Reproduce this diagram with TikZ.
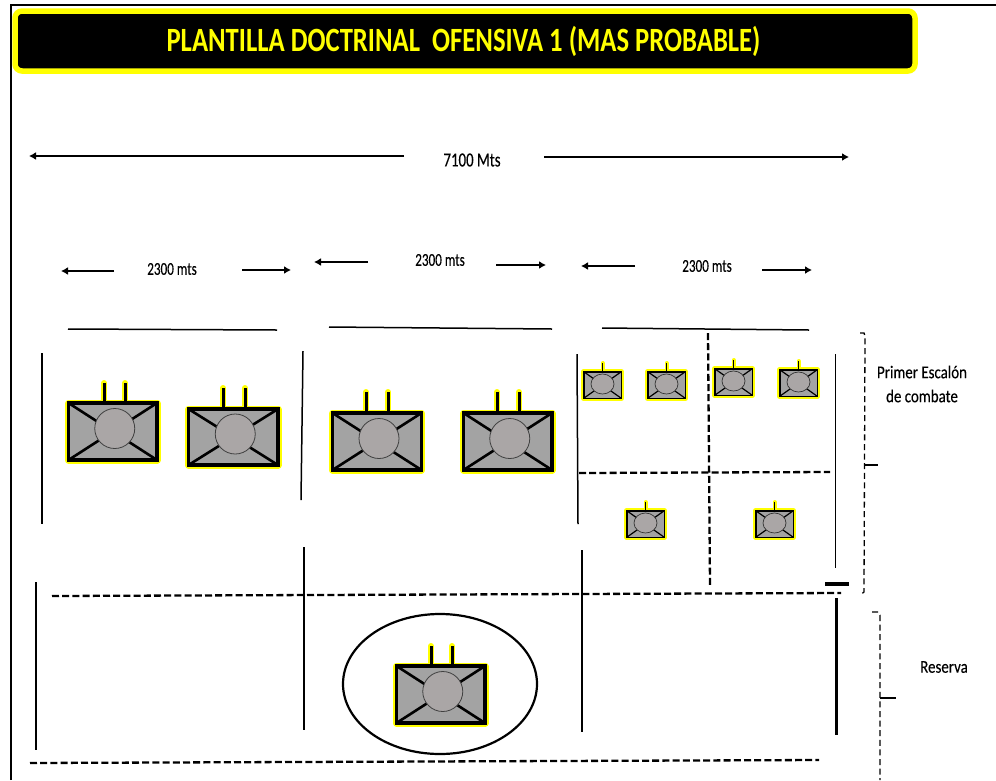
\documentclass[tikz,border=0pt]{standalone}
\usepackage{fontspec}
\setmainfont{Carlito}
\newfontfamily\medfont[FakeBold=0.25]{Carlito}
\usetikzlibrary{arrows.meta,calc}
\definecolor{hull}{RGB}{163,163,163}
\definecolor{turret}{RGB}{170,166,166}
\definecolor{glow}{RGB}{255,255,0}
\tikzset{
  x=1pt,y=-1pt,
  solidline/.style={black,line width=1.5pt},
  dimarrow/.style={black,line width=1.6pt,-{Latex[length=7pt,width=8pt]}},
  dashline/.style={black,line width=2.3pt,dash pattern=on 7pt off 3.2pt},
  bracketline/.style={black,line width=1.3pt,dash pattern=on 6pt off 3.6pt},
  dimlabel/.style={inner sep=0pt,text=black},
  sidelabel/.style={inner sep=0pt,text=black,align=center}
}
\newcommand{\dimtext}[1]{\scalebox{.73}[1]{\medfont\fontsize{18}{21}\selectfont #1}}
\newcommand{\sidetext}[1]{\scalebox{.83}[1]{\medfont\fontsize{18}{21}\selectfont #1}}
% large tank: left, top, right, bottom, barrel 1, barrel 2, barrel top
\newcommand{\bigtank}[7]{%
  \draw[glow,line width=6pt,line cap=round] (#5,#7) -- (#5,#2) (#6,#7) -- (#6,#2);
  \draw[glow,line width=7pt,line join=round] (#1,#2) rectangle (#3,#4);
  \draw[black,line width=3pt] (#5,#7) -- (#5,#2) (#6,#7) -- (#6,#2);
  \fill[hull] (#1,#2) rectangle (#3,#4);
  \draw[black,line width=2.6pt] (#1,#2) -- (#3,#4) (#1,#4) -- (#3,#2);
  \draw[black,line width=3.6pt] (#1,#2) rectangle (#3,#4);
  \path let \n1={(#1+#3)/2+2}, \n2={(#2+#4)/2-3} in
    node[circle,draw=black!75,line width=.8pt,fill=turret,minimum size=40pt,inner sep=0pt] at (\n1,\n2) {};
}
% small tank: left, top
\newcommand{\smalltank}[2]{%
  \begin{scope}[shift={(#1,#2)}]
    \draw[glow,line width=4pt,line cap=round] (19.5,-8) -- (19.5,0);
    \draw[glow,line width=5.5pt,line join=round] (.7,.7) rectangle (38.3,27.3);
    \draw[black,line width=1.4pt] (19.5,-8) -- (19.5,0);
    \fill[hull] (.7,.7) rectangle (38.3,27.3);
    \draw[black,line width=1.2pt] (.7,.7) -- (38.3,27.3) (.7,27.3) -- (38.3,.7);
    \draw[black,line width=1.6pt] (.7,.7) rectangle (38.3,27.3);
    \draw[black!80,line width=.7pt,fill=turret] (19.5,13) ellipse (11.5pt and 10pt);
  \end{scope}
}
\begin{document}
\begin{tikzpicture}
\useasboundingbox (0,0) rectangle (996,780);
\fill[white] (0,0) rectangle (996,780);
% frame
\draw[black,line width=2pt] (10.5,780) -- (10.5,5) -- (996,5);
% title
\draw[glow,fill=black,line width=5.5pt,rounded corners=7pt] (15,11) rectangle (915,71);
\node[inner sep=0pt,text=glow] (title) at (463.5,41) {\scalebox{.784}[1]{\bfseries\fontsize{34}{40}\selectfont PLANTILLA DOCTRINAL\ \ OFENSIVA 1 (MAS PROBABLE)}};
% overall dimension
\node[dimlabel] (total) at (472,160) {\scalebox{.745}[1]{\medfont\fontsize{20}{24}\selectfont 7100 Mts}};
\draw[dimarrow] (404,156) -- (29,156);
\draw[dimarrow] (544,157) -- (849,157);
% sector dimensions
\node[dimlabel] (d1) at (172,269) {\dimtext{2300 mts}};
\draw[dimarrow] (114,271) -- (61,271);
\draw[dimarrow] (242,270) -- (291,270);
\node[dimlabel] (d2) at (440,260) {\dimtext{2300 mts}};
\draw[dimarrow] (368,262) -- (314,262);
\draw[dimarrow] (496,265) -- (546,265);
\node[dimlabel] (d3) at (707,266) {\dimtext{2300 mts}};
\draw[dimarrow] (635,266) -- (581,266);
\draw[dimarrow] (762,270) -- (812,270);
% front lines
\draw[solidline] (68,329) -- (277,330);
\draw[solidline] (329,327) -- (552,329);
\draw[solidline] (602,328) -- (809,330);
% vertical boundaries
\draw[solidline] (42,353) -- (42,524);
\draw[solidline] (303,351) -- (301,500);
\draw[solidline] (577,354) -- (578,524);
\draw[solidline] (36,582) -- (36,750);
\draw[solidline] (304,547) -- (304,730);
\draw[solidline] (582,550) -- (582,732);
\draw[solidline] (835.5,354) -- (835.5,568);
\draw[black,line width=3pt] (836,598) -- (836,735);
\draw[black,line width=3.6pt] (825,584) -- (849,584);
% dashed lines
\draw[dashline] (52,596) -- (841,593);
\draw[dashline] (30,763) -- (819,760);
\draw[dashline] (579,473) -- (830,472);
\draw[dashline] (708,333) -- (710,585);
% brackets
\draw[bracketline] (860,333) -- (864,333) -- (865,336) -- (864,592) -- (860,595);
\draw[black,line width=1.1pt] (865,465) -- (878,465);
\draw[bracketline] (872,612) -- (878,612) -- (880,615) -- (880,780);
\draw[black,line width=1.1pt] (880,698) -- (896,698);
\node[sidelabel] (primer) at (922,372) {\sidetext{Primer Escalón}};
\node[sidelabel] (combate) at (922,396) {\sidetext{de combate}};
\node[sidelabel] (reserva) at (944,667) {\sidetext{Reserva}};
% big tanks
\bigtank{68.5}{403}{157}{460}{104}{125}{383}
\bigtank{188.5}{409}{278}{465}{223}{245}{388}
\bigtank{332.5}{413}{421.5}{470}{366}{388}{392}
\bigtank{463.5}{413}{552}{470}{497}{519}{392}
% reserve
\draw[black,line width=2.2pt] (440,684) ellipse (97pt and 70pt);
\bigtank{396.5}{666}{485}{723}{431}{452}{646}
% small tanks
\smalltank{583}{371}
\smalltank{647}{371}
\smalltank{714}{368}
\smalltank{779}{369}
\smalltank{626}{510}
\smalltank{755}{510}
\end{tikzpicture}
\end{document}
